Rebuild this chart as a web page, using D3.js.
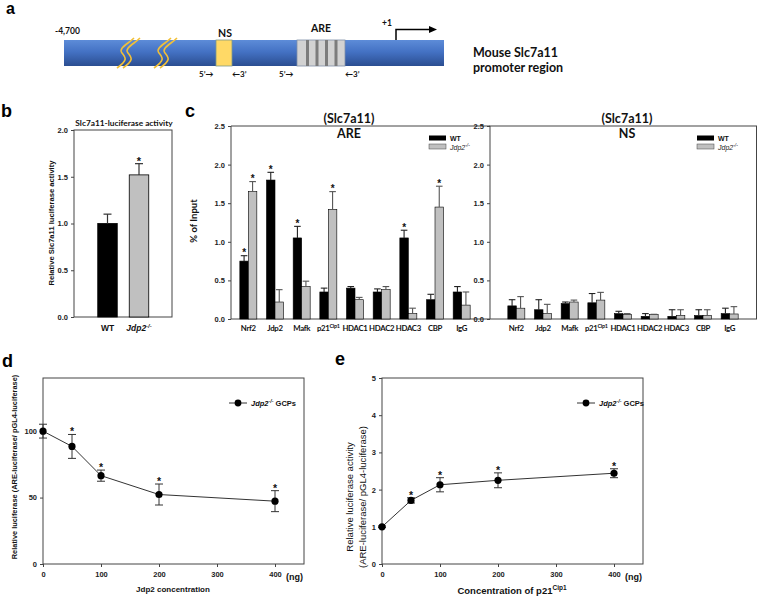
<!DOCTYPE html>
<html><head><meta charset="utf-8">
<script src="https://cdn.jsdelivr.net/npm/d3@7"></script>
<style>body{margin:0;background:#fff} svg{display:block}</style>
</head><body><svg id="fig" width="758" height="597"></svg>
<script>
// ---------- DATA ----------
// panel b
const bGroups = ["WT", "Jdp2"];
const bValues = [1.00, 1.52];
const bErrors = [0.10, 0.12];
const bSig = [0, 1];
// panel c
const categories = ["Nrf2", "Jdp2", "Mafk", "p21", "HDAC1", "HDAC2", "HDAC3", "CBP", "IgG"];
const areWT     = [0.75, 1.80, 1.05, 0.35, 0.40, 0.35, 1.05, 0.25, 0.35];
const areWTerr  = [0.07, 0.10, 0.15, 0.05, 0.02, 0.04, 0.10, 0.07, 0.07];
const areKO     = [1.65, 0.22, 0.42, 1.42, 0.25, 0.38, 0.07, 1.45, 0.18];
const areKOerr  = [0.13, 0.16, 0.07, 0.23, 0.03, 0.04, 0.07, 0.27, 0.17];
const areWTsig  = [1, 1, 1, 0, 0, 0, 1, 0, 0];
const areKOsig  = [1, 0, 0, 1, 0, 0, 0, 1, 0];
const nsWT      = [0.17, 0.12, 0.20, 0.21, 0.07, 0.035, 0.035, 0.045, 0.07];
const nsWTerr   = [0.08, 0.13, 0.02, 0.12, 0.03, 0.035, 0.085, 0.075, 0.07];
const nsKO      = [0.14, 0.07, 0.22, 0.245, 0.06, 0.056, 0.045, 0.045, 0.065];
const nsKOerr   = [0.15, 0.12, 0.025, 0.10, 0.01, 0.005, 0.075, 0.075, 0.095];
const noSig     = [0, 0, 0, 0, 0, 0, 0, 0, 0];
const cTicks = [0, 0.5, 1.0, 1.5, 2.0, 2.5];
// panel d
const dConc   = [0, 50, 100, 200, 400];
const dValues = [100, 88.5, 66.5, 52.3, 47.3];
const dErrors = [5.2, 9.0, 4.2, 7.9, 7.9];
const dSig    = [0, 1, 1, 1, 1];
const dYTicks = [0, 50, 100];
// panel e
const eConc   = [0, 50, 100, 200, 400];
const eValues = [1.00, 1.71, 2.13, 2.25, 2.44];
const eErrors = [0.02, 0.07, 0.19, 0.20, 0.12];
const eSig    = [0, 1, 1, 1, 1];
const eYTicks = [0, 1, 2, 3, 4, 5];
const concTicks = [0, 100, 200, 300, 400];

// ---------- SETUP ----------
const SANS = "'Liberation Sans', Arial, sans-serif";
const CAL = "Lato, 'Open Sans', sans-serif";
const svg = d3.select("#fig");
svg.append("rect").attr("width", 758).attr("height", 597).attr("fill", "#fff");
const defs = svg.append("defs");

function txt(g, s, x, y, o = {}) {
  return g.append("text").attr("x", x).attr("y", y).text(s)
    .attr("font-family", o.ff || SANS).attr("font-size", o.fs || 8)
    .attr("font-weight", o.fw || "bold").attr("fill", o.fill || "#111")
    .attr("text-anchor", o.anchor || "start")
    .attr("font-style", o.fst || "normal");
}
function jdp2Label(t, fs, extra) {
  t.append("tspan").attr("font-style", "italic").text("Jdp2");
  t.append("tspan").attr("font-style", "italic").attr("font-size", fs * 0.7).attr("dy", -fs * 0.4).text("-/-");
  if (extra) t.append("tspan").attr("dy", fs * 0.4).text(extra);
}

// panel letters
[["a", 6, 14, 16], ["b", 1, 117, 18], ["c", 185, 117, 18], ["d", 2, 367, 18], ["e", 335, 365, 18]]
  .forEach(([t, x, y, fs]) => txt(svg, t, x, y, { fs: fs, fill: "#000" }));

// ---------- PANEL A (schematic) ----------
const pa = svg.append("g");
const grad = defs.append("linearGradient").attr("id", "blueGrad")
  .attr("x1", 0).attr("y1", 0).attr("x2", 0).attr("y2", 1);
grad.append("stop").attr("offset", "0%").attr("stop-color", "#5d8cd8");
grad.append("stop").attr("offset", "45%").attr("stop-color", "#4472c4");
grad.append("stop").attr("offset", "100%").attr("stop-color", "#2b4e91");
pa.append("rect").attr("x", 64).attr("y", 40).attr("width", 380).attr("height", 26).attr("fill", "url(#blueGrad)");
[116, 153].forEach(x0 => {
  [0, 6].forEach(dx => {
    const a = x0 + dx;
    pa.append("path")
      .attr("d", `M${a + 18},38 C${a + 12},44 ${a + 2},48 ${a + 6},53 C${a + 10},58 ${a + 12},60 ${a + 1},68`)
      .attr("fill", "none").attr("stroke", "#f2c037").attr("stroke-width", 1.6);
  });
});
pa.append("rect").attr("x", 216).attr("y", 40).attr("width", 16).attr("height", 26)
  .attr("fill", "#ffd966").attr("stroke", "#7f9a86").attr("stroke-width", 0.8);
pa.append("rect").attr("x", 297).attr("y", 40).attr("width", 48).attr("height", 26)
  .attr("fill", "#d2d2d2").attr("stroke", "#7f90a8").attr("stroke-width", 0.8);
[306, 315.5, 325, 334.5].forEach(x => pa.append("rect").attr("x", x).attr("y", 40).attr("width", 3).attr("height", 26).attr("fill", "#7c7c7c"));
pa.append("path").attr("d", "M396,40 V29.5 H430").attr("fill", "none").attr("stroke", "#000").attr("stroke-width", 1.5);
pa.append("path").attr("d", "M437,29.5 L429,26 L429,33 Z").attr("fill", "#000");
txt(pa, "-4,700", 55, 34, { ff: CAL, fs: 8.5 });
txt(pa, "NS", 225, 37, { ff: CAL, fs: 10.5, anchor: "middle" });
txt(pa, "ARE", 321, 32, { ff: CAL, fs: 10.5, anchor: "middle" });
txt(pa, "+1", 382, 26, { ff: CAL, fs: 8.5 });
txt(pa, "5\u2019\u2192", 199, 77, { ff: CAL, fs: 8 });
txt(pa, "\u21903\u2019", 232, 77, { ff: CAL, fs: 8 });
txt(pa, "5\u2019\u2192", 279, 77, { ff: CAL, fs: 8 });
txt(pa, "\u21903\u2019", 345, 77, { ff: CAL, fs: 8 });
txt(pa, "Mouse Slc7a11", 473, 57, { ff: CAL, fs: 12.5 });
txt(pa, "promoter region", 473, 72, { ff: CAL, fs: 12.5 });

// ---------- PANEL B ----------
(function () {
  const g = svg.append("g");
  const y = d3.scaleLinear().domain([0, 2]).range([317, 130]);
  const x = d3.scalePoint().domain(bGroups).range([107.5, 139]);
  const bw = 19.5;
  g.append("rect").attr("x", 74).attr("y", 130).attr("width", 98).attr("height", 187)
    .attr("fill", "none").attr("stroke", "#444").attr("stroke-width", 1);
  const ax = g.append("g").attr("transform", "translate(74,0)")
    .call(d3.axisLeft(y).tickValues([0, 0.5, 1, 1.5, 2]).tickFormat(d3.format(".1f")).tickSize(3).tickPadding(3));
  ax.select(".domain").remove();
  ax.selectAll("text").attr("font-family", SANS).attr("font-weight", "bold").attr("font-size", 7.5).attr("fill", "#222");
  ax.selectAll("line").attr("stroke", "#444");
  bGroups.forEach((k, i) => {
    const cx = x(k);
    g.append("rect").attr("x", cx - bw / 2).attr("y", y(bValues[i])).attr("width", bw)
      .attr("height", y(0) - y(bValues[i])).attr("fill", i === 0 ? "#000" : "#c0c0c0")
      .attr("stroke", "#000").attr("stroke-width", 0.8);
    const top = y(bValues[i] + bErrors[i]);
    g.append("line").attr("x1", cx).attr("x2", cx).attr("y1", y(bValues[i])).attr("y2", top).attr("stroke", "#333").attr("stroke-width", 1.2);
    g.append("line").attr("x1", cx - 4).attr("x2", cx + 4).attr("y1", top).attr("y2", top).attr("stroke", "#333").attr("stroke-width", 1.2);
    if (bSig[i]) txt(g, "*", cx, top + 1, { fs: 11, anchor: "middle" });
  });
  txt(g, "WT", x("WT"), 331, { fs: 8.5, anchor: "middle" });
  const jt = txt(g, "", x("Jdp2"), 331, { fs: 8.5, anchor: "middle" });
  jdp2Label(jt, 8.5);
  txt(g, "Slc7a11-luciferase activity", 124, 126, { ff: CAL, fs: 8.3, anchor: "middle" });
  txt(g, "Relative Slc7a11 luciferase activity", 0, 0, { fs: 7.6, anchor: "middle" })
    .attr("transform", "translate(54,223) rotate(-90)");
})();

// ---------- PANEL C ----------
function drawC(cfg) {
  const g = svg.append("g");
  const y = d3.scaleLinear().domain([0, 2.5]).range([319, 126]);
  const x = d3.scaleBand().domain(categories).range(cfg.band).padding(0);
  const sub = d3.scaleBand().domain(["WT", "KO"]).range([-8.5, 8.5]);
  if (cfg.frameRight) {
    g.append("rect").attr("x", cfg.left).attr("y", 126).attr("width", cfg.right - cfg.left).attr("height", 193)
      .attr("fill", "none").attr("stroke", "#444").attr("stroke-width", 1);
  } else {
    g.append("path").attr("d", `M${cfg.right},126 H${cfg.left} V319 H${cfg.right}`)
      .attr("fill", "none").attr("stroke", "#444").attr("stroke-width", 1);
  }
  const ax = g.append("g").attr("transform", `translate(${cfg.left},0)`)
    .call(d3.axisLeft(y).tickValues(cTicks).tickFormat(d3.format(".1f")).tickSize(3).tickPadding(3));
  ax.select(".domain").remove();
  ax.selectAll("text").attr("font-family", SANS).attr("font-weight", "bold").attr("font-size", 7.5).attr("fill", "#222");
  ax.selectAll("line").attr("stroke", "#444");
  const series = [
    { key: "WT", v: cfg.wt, e: cfg.wtErr, s: cfg.wtSig, fill: "#000", err: "#222" },
    { key: "KO", v: cfg.ko, e: cfg.koErr, s: cfg.koSig, fill: "#c0c0c0", err: "#555" }
  ];
  series.forEach(se => {
    categories.forEach((c, i) => {
      const x0 = x(c) + x.bandwidth() / 2 + sub(se.key);
      const w = sub.bandwidth();
      const cx = x0 + w / 2;
      g.append("rect").attr("x", x0).attr("y", y(se.v[i])).attr("width", w).attr("height", y(0) - y(se.v[i]))
        .attr("fill", se.fill).attr("stroke", "#000").attr("stroke-width", 0.6);
      const top = y(se.v[i] + se.e[i]);
      g.append("line").attr("x1", cx).attr("x2", cx).attr("y1", y(se.v[i])).attr("y2", top).attr("stroke", se.err).attr("stroke-width", 1.1);
      g.append("line").attr("x1", cx - 3.3).attr("x2", cx + 3.3).attr("y1", top).attr("y2", top).attr("stroke", se.err).attr("stroke-width", 1.1);
      if (se.s[i]) txt(g, "*", cx, top + 0.5, { fs: 10, anchor: "middle" });
    });
  });
  categories.forEach(c => {
    const t = txt(g, c === "p21" ? "" : c, x(c) + x.bandwidth() / 2, 331, { ff: CAL, fs: 7.8, anchor: "middle" })
      .attr("letter-spacing", -0.3);
    if (c === "p21") {
      t.append("tspan").text("p21");
      t.append("tspan").attr("font-size", 5.5).attr("dy", -3.2).text("Cip1");
    }
  });
  txt(g, "(Slc7a11)", cfg.titleX, 123, { ff: CAL, fs: 12.5, anchor: "middle" });
  txt(g, cfg.sub, cfg.titleX, 138, { ff: CAL, fs: 12.5, anchor: "middle" });
  g.append("rect").attr("x", cfg.legX).attr("y", 135.5).attr("width", 17).attr("height", 5).attr("fill", "#000");
  g.append("rect").attr("x", cfg.legX).attr("y", 144).attr("width", 17).attr("height", 5).attr("fill", "#c0c0c0").attr("stroke", "#444").attr("stroke-width", 0.5);
  txt(g, "WT", cfg.legX + 21, 141, { fs: 7 });
  const lt = txt(g, "", cfg.legX + 21, 149.5, { fs: 7, fw: "normal", fill: "#222" });
  jdp2Label(lt, 7);
  if (cfg.ylabel) txt(g, "% of Input", 0, 0, { ff: CAL, fs: 9.5, anchor: "middle" }).attr("transform", "translate(197,221) rotate(-90)");
}
drawC({ left: 231, right: 490, band: [235, 475], wt: areWT, wtErr: areWTerr, ko: areKO, koErr: areKOerr,
  wtSig: areWTsig, koSig: areKOsig, titleX: 349, sub: "ARE", legX: 429, ylabel: true, frameRight: false });
drawC({ left: 490, right: 756.5, band: [503, 743], wt: nsWT, wtErr: nsWTerr, ko: nsKO, koErr: nsKOerr,
  wtSig: noSig, koSig: noSig, titleX: 627, sub: "NS", legX: 697, ylabel: false, frameRight: true });

// ---------- PANELS D & E ----------
function drawLine(cfg) {
  const g = svg.append("g");
  const x = d3.scaleLinear().domain([0, 450]).range([cfg.left, cfg.right]);
  const y = d3.scaleLinear().domain(cfg.yDomain).range([564, 378]);
  g.append("rect").attr("x", cfg.left).attr("y", 378).attr("width", cfg.right - cfg.left).attr("height", 186)
    .attr("fill", "none").attr("stroke", "#444").attr("stroke-width", 1);
  const ya = g.append("g").attr("transform", `translate(${cfg.left},0)`)
    .call(d3.axisLeft(y).tickValues(cfg.yTicks).tickFormat(d3.format("d")).tickSize(3).tickPadding(3));
  const xa = g.append("g").attr("transform", "translate(0,564)")
    .call(d3.axisBottom(x).tickValues(concTicks).tickFormat(d3.format("d")).tickSize(3).tickPadding(5));
  [ya, xa].forEach(a => {
    a.select(".domain").remove();
    a.selectAll("text").attr("font-family", SANS).attr("font-weight", "bold").attr("font-size", 7.5).attr("fill", "#222");
    a.selectAll("line").attr("stroke", "#444");
  });
  txt(g, "(ng)", x(400) + 11, 579.5, { fs: 9 });
  const pts = cfg.conc.map((c, i) => [x(c), y(cfg.vals[i])]);
  g.append("path").attr("d", d3.line()(pts)).attr("fill", "none").attr("stroke", "#333").attr("stroke-width", 1);
  cfg.conc.forEach((c, i) => {
    const cx = x(c), hi = y(cfg.vals[i] + cfg.errs[i]), lo = y(cfg.vals[i] - cfg.errs[i]);
    g.append("line").attr("x1", cx).attr("x2", cx).attr("y1", lo).attr("y2", hi).attr("stroke", "#333").attr("stroke-width", 1);
    [hi, lo].forEach(yy => g.append("line").attr("x1", cx - 4).attr("x2", cx + 4).attr("y1", yy).attr("y2", yy).attr("stroke", "#333").attr("stroke-width", 1));
    g.append("circle").attr("cx", cx).attr("cy", y(cfg.vals[i])).attr("r", 3.6).attr("fill", "#000");
    if (cfg.sig[i]) txt(g, "*", cx, hi + 1, { fs: 10.5, anchor: "middle" });
  });
  // legend
  g.append("line").attr("x1", cfg.legX).attr("x2", cfg.legX + 18).attr("y1", 403).attr("y2", 403).attr("stroke", "#333");
  g.append("circle").attr("cx", cfg.legX + 9).attr("cy", 403).attr("r", 3.4).attr("fill", "#000");
  const lt = txt(g, "", cfg.legX + 22, 406, { fs: 7.5 });
  jdp2Label(lt, 7.5, " GCPs");
  cfg.labels(g);
}
drawLine({ left: 43, right: 304, yDomain: [0, 140], yTicks: dYTicks, conc: dConc, vals: dValues, errs: dErrors, sig: dSig, legX: 229,
  labels: g => {
    txt(g, "Jdp2 concentration", 173, 592, { fs: 8, anchor: "middle" });
    txt(g, "Relative luciferase (ARE-luciferase/ pGL4-luciferase)", 0, 0, { fs: 7.4, anchor: "middle" })
      .attr("transform", "translate(17,467) rotate(-90)");
  } });
drawLine({ left: 382, right: 643, yDomain: [0, 5], yTicks: eYTicks, conc: eConc, vals: eValues, errs: eErrors, sig: eSig, legX: 577,
  labels: g => {
    const t = txt(g, "Concentration of p21", 512, 594, { fs: 9.5, anchor: "middle" });
    t.append("tspan").attr("font-size", 6.5).attr("dy", -4).text("Cip1");
    txt(g, "Relative luciferase activity", 0, 0, { fs: 9.5, fw: "normal", anchor: "middle" })
      .attr("transform", "translate(353,497) rotate(-90)");
    txt(g, "(ARE-luciferase/ pGL4-luciferase)", 0, 0, { fs: 9.5, fw: "normal", anchor: "middle" })
      .attr("transform", "translate(366,497) rotate(-90)");
  } });
</script></body></html>
